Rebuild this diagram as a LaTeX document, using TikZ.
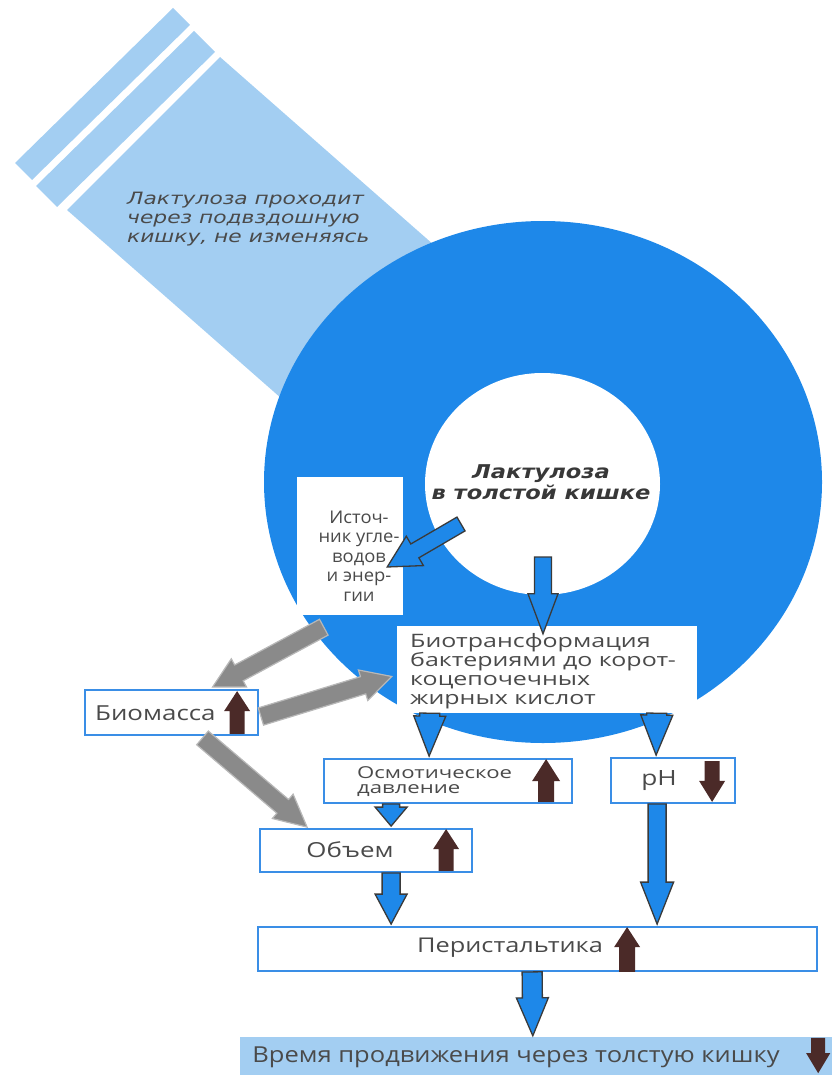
\documentclass[tikz,border=0pt]{standalone}
\usepackage{fontspec}
\setmainfont{Open Sans}
\newfontfamily\boxfont[FakeStretch=1.25]{Open Sans}
\newfontfamily\widefont[FakeStretch=1.35]{Open Sans}
\newfontfamily\barfont[FakeStretch=1.16]{Open Sans}
\newfontfamily\srcfont[FakeStretch=1.05]{Open Sans}
\newfontfamily\bandfont[FakeStretch=1.28]{DejaVu Sans}
\newfontfamily\lacfont[FakeStretch=1.19]{DejaVu Sans}
\usetikzlibrary{calc}
\definecolor{ringblue}{HTML}{1E88E9}
\definecolor{lightblue}{HTML}{A3CEF2}
\definecolor{boxborder}{HTML}{3A8EE6}
\definecolor{txtgray}{HTML}{4A4A4A}
\definecolor{arrgray}{HTML}{8A8A8A}
\definecolor{arrgrayedge}{HTML}{B8B8B8}
\definecolor{upbrown}{HTML}{4B2A28}
\definecolor{arroutline}{HTML}{3A3A3A}
% block arrow: style, start, tip, half shaft, half head, head length
\newcommand\blockarrow[6]{%
  \coordinate (bacbase) at ($(#3)!#6!(#2)$);
  \path[#1] ($(#2)!#4!90:(#3)$) -- ($(bacbase)!#4!90:(#3)$) -- ($(bacbase)!#5!90:(#3)$)
    -- (#3) -- ($(bacbase)!#5!-90:(#3)$) -- ($(bacbase)!#4!-90:(#3)$) -- ($(#2)!#4!-90:(#3)$) -- cycle;
}
\begin{document}
\begin{tikzpicture}[x=1pt,y=-1pt,
  bluebox/.style={draw=boxborder, line width=1.8pt, fill=white, inner sep=0pt},
  whitebox/.style={fill=white, inner sep=0pt},
  txt/.style={text=txtgray, inner sep=0pt},
  bluearr/.style={fill=ringblue, draw=arroutline, line width=1.3pt, line join=miter},
  grayarr/.style={fill=arrgray, draw=arrgrayedge, line width=1.2pt, line join=miter},
  brownarr/.style={fill=upbrown}]
\useasboundingbox (0,0) rectangle (832,1075);
% light blue band (ileum)
\fill[lightblue] (173,8) -- (190,25) -- (32,180) -- (15,163) -- cycle;
\fill[lightblue] (194,31) -- (215,52) -- (57,207) -- (36,186) -- cycle;
\fill[lightblue] (220,57) -- (550,347) -- (397,500) -- (67,210) -- cycle;
\node[txt, anchor=west, align=left, text=txtgray,
  font={\bandfont\itshape\fontsize{17}{19}\selectfont}] (bandtxt) at (127,219)
  {Лактулоза проходит\\через подвздошную\\кишку, не изменяясь};
% colon ring
\fill[ringblue] (543,482) ellipse [x radius=279, y radius=261];
\fill[white] (542.5,484) ellipse [x radius=117.5, y radius=111];
\node[txt, align=center, text=black!78,
  font={\lacfont\bfseries\itshape\fontsize{19}{20.5}\selectfont}] (lac) at (541,482)
  {Лактулоза\\в толстой кишке};
% white boxes on the ring
\node[whitebox, minimum width=106pt, minimum height=138pt] (src) at (350,546) {};
\node[txt, align=center, font={\srcfont\fontsize{17.5}{19.5}\selectfont}] (srct) at (359,556)
  {Источ-\\ник угле-\\водов\\и энер-\\гии};
\node[whitebox, minimum width=300pt, minimum height=87pt] (bio) at (547,669.5) {};
\node[txt, anchor=west, align=left, font={\widefont\fontsize{18.5}{19}\selectfont}] (biot) at (410,671.5)
  {Биотрансформация\\бактериями до корот-\\коцепочечных\\жирных кислот};
% blue-bordered boxes
\node[bluebox, minimum width=173pt, minimum height=45pt] (bm) at (171.5,712.5) {};
\node[txt, anchor=west, font={\boxfont\fontsize{20.7}{22}\selectfont}] (bmt) at (95,713) {Биомасса};
\node[bluebox, minimum width=248pt, minimum height=44pt] (osm) at (448,781) {};
\node[txt, anchor=west, align=left, font={\widefont\fontsize{16.4}{15}\selectfont}] (osmt) at (357,781.5)
  {Осмотическое\\давление};
\node[bluebox, minimum width=124pt, minimum height=45pt] (ph) at (673,780.5) {};
\node[txt, font={\boxfont\fontsize{21}{22}\selectfont}] (pht) at (659,781) {pH};
\node[bluebox, minimum width=212pt, minimum height=43pt] (vol) at (366,850.5) {};
\node[txt, font={\boxfont\fontsize{20.7}{22}\selectfont}] (volt) at (350,850) {Объем};
\node[bluebox, minimum width=559pt, minimum height=44pt] (per) at (537.5,949) {};
\node[txt, font={\boxfont\fontsize{20.3}{22}\selectfont}] (pert) at (510,948) {Перистальтика};
\node[fill=lightblue, inner sep=0pt, minimum width=592pt, minimum height=38pt] (bar) at (536,1056) {};
\node[txt, font={\barfont\fontsize{22}{24}\selectfont}] (bart) at (516,1057.5) {Время продвижения через толстую кишку};
% arrow end points
\coordinate (g1s) at ($(src.south west)+(27,12)$);
\coordinate (g1e) at ($(bm.north)+(41,-2)$);
\coordinate (g2s) at ($(bm.east)+(2,4)$);
\coordinate (g2e) at ($(bio.west)+(-5,7)$);
\coordinate (g3s) at ($(bm.south)+(31,2)$);
\coordinate (g3e) at ($(vol.north west)+(48,-1)$);
% gray arrows
\blockarrow{grayarr}{g1s}{g1e}{9pt}{16pt}{30pt}
\blockarrow{grayarr}{g2s}{g2e}{9pt}{16pt}{30pt}
\blockarrow{grayarr}{g3s}{g3e}{9pt}{16pt}{32pt}
% blue arrows
\coordinate (b1s) at (461,524);
\coordinate (b1e) at ($(src.east)+(-16,21)$);
\coordinate (b2s) at ($(lac.center)+(2,75)$);
\coordinate (b2e) at ($(bio.north)+(-4,8)$);
\coordinate (b3s) at ($(bio.south west)+(33,0)$);
\coordinate (b3e) at ($(osm.north west)+(106,-2)$);
\coordinate (b4s) at ($(bio.south west)+(260,0)$);
\coordinate (b4e) at ($(ph.north west)+(46,-2)$);
\coordinate (b5s) at ($(osm.south west)+(68,0)$);
\coordinate (b5e) at ($(vol.north west)+(132,-2)$);
\coordinate (b6s) at ($(vol.south west)+(132,0)$);
\coordinate (b6e) at ($(per.north west)+(134,-2)$);
\coordinate (b7s) at ($(ph.south west)+(47,0)$);
\coordinate (b7e) at ($(per.north west)+(400,-2)$);
\coordinate (b8s) at ($(per.south west)+(275,0)$);
\coordinate (b8e) at ($(bar.north west)+(293,-1)$);
\blockarrow{bluearr}{b1s}{b1e}{8pt}{17pt}{32pt}
\blockarrow{bluearr}{b2s}{b2e}{8.5pt}{15pt}{40pt}
\blockarrow{bluearr}{b3s}{b3e}{10pt}{16pt}{40pt}
\blockarrow{bluearr}{b4s}{b4e}{10pt}{16pt}{40pt}
\blockarrow{bluearr}{b5s}{b5e}{8.5pt}{16pt}{19pt}
\blockarrow{bluearr}{b6s}{b6e}{9pt}{16pt}{30pt}
\blockarrow{bluearr}{b7s}{b7e}{9pt}{16.5pt}{42pt}
\blockarrow{bluearr}{b8s}{b8e}{10pt}{16pt}{38pt}
% brown up/down arrows
\coordinate (u1s) at ($(bm.south west)+(153,-2)$);
\coordinate (u1e) at ($(bm.north west)+(153,2)$);
\coordinate (u2s) at ($(osm.south west)+(223,-2)$);
\coordinate (u2e) at ($(osm.north west)+(223,1)$);
\coordinate (u3s) at ($(ph.north west)+(102,4)$);
\coordinate (u3e) at ($(ph.south west)+(102,-2)$);
\coordinate (u4s) at ($(vol.south west)+(187,-2)$);
\coordinate (u4e) at ($(vol.north west)+(187,1)$);
\coordinate (u5s) at ($(per.south west)+(370,0)$);
\coordinate (u5e) at ($(per.north west)+(370,1)$);
\coordinate (u6s) at ($(bar.north east)+(-14,1)$);
\coordinate (u6e) at ($(bar.south east)+(-14,-2)$);
\blockarrow{brownarr}{u1s}{u1e}{7.5pt}{13pt}{20pt}
\blockarrow{brownarr}{u2s}{u2e}{8pt}{14pt}{22pt}
\blockarrow{brownarr}{u3s}{u3e}{7.5pt}{13pt}{21pt}
\blockarrow{brownarr}{u4s}{u4e}{7.5pt}{13pt}{20pt}
\blockarrow{brownarr}{u5s}{u5e}{8pt}{13pt}{20pt}
\blockarrow{brownarr}{u6s}{u6e}{7pt}{12pt}{20pt}
\end{tikzpicture}
\end{document}
